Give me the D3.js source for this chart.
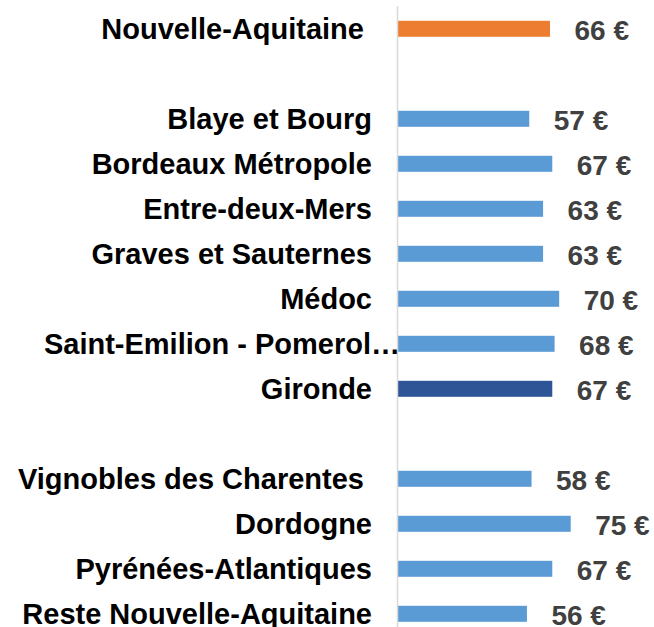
<!doctype html>
<html>
<head>
  <meta charset="utf-8" />
  <title>Prix moyen</title>
  <script src="https://d3js.org/d3.v7.min.js"></script>
  <style>
    body { margin: 0; background: #fff; }
    svg text { font-family: "Liberation Sans", Arial, sans-serif; font-weight: bold; white-space: pre; }
  </style>
</head>
<body>
  <svg></svg>
  <script>
    // empty strings are the blank spacer rows
    var categories = ["Nouvelle-Aquitaine ", "", "Blaye et Bourg", "Bordeaux Métropole", "Entre-deux-Mers",
      "Graves et Sauternes", "Médoc", "Saint-Emilion - Pomerol…", "Gironde", "",
      "Vignobles des Charentes ", "Dordogne", "Pyrénées-Atlantiques", "Reste Nouvelle-Aquitaine"];
    var values = [66, null, 57, 67, 63, 63, 70, 68, 67, null, 58, 75, 67, 56];
    var colors = ["#ED7D31", null, "#5B9BD5", "#5B9BD5", "#5B9BD5", "#5B9BD5", "#5B9BD5", "#5B9BD5", "#2F5597", null,
      "#5B9BD5", "#5B9BD5", "#5B9BD5", "#5B9BD5"];

    var width = 654,
      height = 627,
      barH = 16;

    var svg = d3.select("svg").attr("width", width).attr("height", height);

    var y = d3.scalePoint()
      .domain(d3.range(categories.length))
      .range([28.8, 613.8]);

    var x = d3.scaleLinear()
      .domain([0, 75])
      .range([398, 570.7]);

    var rows = d3.range(categories.length).filter(function(i) { return values[i] != null; });

    svg.selectAll(".bar")
      .data(rows)
      .enter()
      .append("rect")
      .attr("class", "bar")
      .attr("x", x(0))
      .attr("y", function(i) { return y(i) - barH / 2; })
      .attr("width", function(i) { return x(values[i]) - x(0); })
      .attr("height", barH)
      .attr("fill", function(i) { return colors[i]; });

    svg.append("line")
      .attr("x1", x(0) - 0.5).attr("x2", x(0) - 0.5)
      .attr("y1", 6).attr("y2", height)
      .attr("stroke", "#d9d9d9")
      .attr("stroke-width", 1.5);

    svg.selectAll(".cat")
      .data(rows)
      .enter()
      .append("text")
      .attr("class", "cat")
      .attr("x", function(i) { return categories[i].slice(-1) == "…" ? 400 : 372; })
      .attr("y", function(i) { return y(i) + 10; })
      .attr("text-anchor", "end")
      .style("font-size", "29px")
      .attr("fill", "#000")
      .text(function(i) { return categories[i]; });

    svg.selectAll(".val")
      .data(rows)
      .enter()
      .append("text")
      .attr("class", "val")
      .attr("x", function(i) { return x(values[i]) + 24.5; })
      .attr("y", function(i) { return y(i) + 11; })
      .style("font-size", "28px")
      .attr("fill", "#404040")
      .text(function(i) { return values[i] + " €"; });
  </script>
</body>
</html>
